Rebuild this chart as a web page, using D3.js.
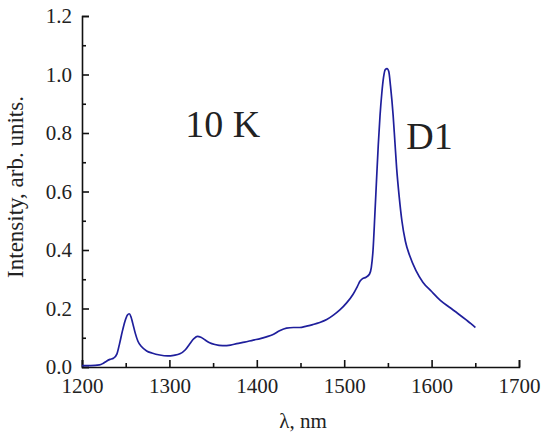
<!DOCTYPE html>
<html>
<head>
<meta charset="utf-8">
<script src="https://cdn.jsdelivr.net/npm/d3@7"></script>
<style>
  html, body { margin: 0; padding: 0; background: #fff; }
  svg { display: block; }
</style>
</head>
<body>
<svg id="chart" width="544" height="437"></svg>
<script>
// ---- data ----
const wavelength = [1200,1210,1220,1224,1228,1232,1236,1240,1243,1246,1249,1252,1254,1256,1258,1261,1264,1268,1274,1280,1289,1298,1305,1312,1318,1323,1328,1332,1336,1341,1346,1352,1361,1370,1377,1386,1396,1404,1411,1418,1426,1434,1442,1449,1457,1464,1472,1480,1488,1495,1503,1510,1515,1518,1521,1525,1529,1531,1533,1535,1537,1539,1541,1543,1545,1547,1549,1551,1553,1556,1558,1560,1563,1566,1570,1575,1582,1590,1600,1610,1620,1630,1640,1645,1650];
const intensity = [0.005,0.005,0.007,0.012,0.02,0.026,0.03,0.045,0.08,0.12,0.155,0.178,0.182,0.172,0.15,0.115,0.088,0.07,0.055,0.048,0.041,0.038,0.04,0.045,0.058,0.078,0.097,0.105,0.102,0.092,0.083,0.077,0.073,0.075,0.08,0.085,0.092,0.097,0.103,0.11,0.124,0.133,0.135,0.135,0.14,0.145,0.152,0.162,0.178,0.195,0.22,0.248,0.275,0.293,0.302,0.307,0.318,0.34,0.4,0.516,0.64,0.76,0.86,0.935,0.99,1.017,1.02,1.01,0.96,0.86,0.77,0.68,0.58,0.5,0.43,0.38,0.33,0.29,0.258,0.228,0.205,0.183,0.16,0.148,0.135];
const xTicks = [1200,1300,1400,1500,1600,1700];
const xMinorTicks = [1250,1350,1450,1550,1650];
const yTicks = [0.0,0.2,0.4,0.6,0.8,1.0,1.2];
const yMinorTicks = [0.1,0.3,0.5,0.7,0.9,1.1];
const xLabel = "λ, nm";
const yLabel = "Intensity, arb. units.";
const annotations = [{text: "10 K", x: 1318, y: 0.785}, {text: "D1", x: 1571, y: 0.745}];

// ---- drawing ----
const FONT = '"Liberation Serif", "Times New Roman", Times, serif';
const svg = d3.select("#chart");
const x = d3.scaleLinear().domain([1200, 1700]).range([82, 519]);
const y = d3.scaleLinear().domain([0, 1.2]).range([367, 16]);

const axisColor = "#111";

// x axis (ticks inward)
const gx = svg.append("g").attr("transform", `translate(0,${y(0)})`);
gx.call(d3.axisBottom(x).tickValues(xTicks).tickSize(-7).tickPadding(11).tickFormat(d3.format("d")));
gx.append("g").call(d3.axisBottom(x).tickValues(xMinorTicks).tickSize(-4).tickFormat(""))
  .select(".domain").remove();

// y axis (ticks inward)
const gy = svg.append("g").attr("transform", `translate(${x(1200)},0)`);
gy.call(d3.axisLeft(y).tickValues(yTicks).tickSize(-7).tickPadding(10).tickFormat(d3.format(".1f")));
gy.append("g").call(d3.axisLeft(y).tickValues(yMinorTicks).tickSize(-4).tickFormat(""))
  .select(".domain").remove();

svg.selectAll(".domain").attr("stroke", axisColor).attr("stroke-width", 1.6);
svg.selectAll(".tick line").attr("stroke", axisColor).attr("stroke-width", 1.6);
svg.selectAll(".tick text").style("font-family", FONT).style("font-size", "21px").attr("fill", "#222");

// line
const pts = wavelength.map((w, i) => [w, intensity[i]]);
svg.append("path")
  .datum(pts)
  .attr("fill", "none")
  .attr("stroke", "#1f1f9c")
  .attr("stroke-width", 1.7)
  .attr("stroke-linejoin", "round")
  .attr("d", d3.line().x(d => x(d[0])).y(d => y(d[1])).curve(d3.curveMonotoneX));

// labels
svg.append("text")
  .attr("x", 303).attr("y", 428)
  .attr("text-anchor", "middle")
  .style("font-family", FONT).style("font-size", "21px").attr("fill", "#222")
  .text(xLabel);

svg.append("text")
  .attr("transform", `translate(23,187) rotate(-90)`)
  .attr("text-anchor", "middle")
  .style("font-family", FONT).style("font-size", "23px").attr("fill", "#222")
  .text(yLabel);

svg.selectAll(".annot")
  .data(annotations)
  .enter().append("text")
  .attr("class", "annot")
  .attr("x", d => x(d.x)).attr("y", d => y(d.y))
  .attr("text-anchor", "start")
  .style("font-family", FONT).style("font-size", "38px").attr("fill", "#222")
  .text(d => d.text);
</script>
</body>
</html>
